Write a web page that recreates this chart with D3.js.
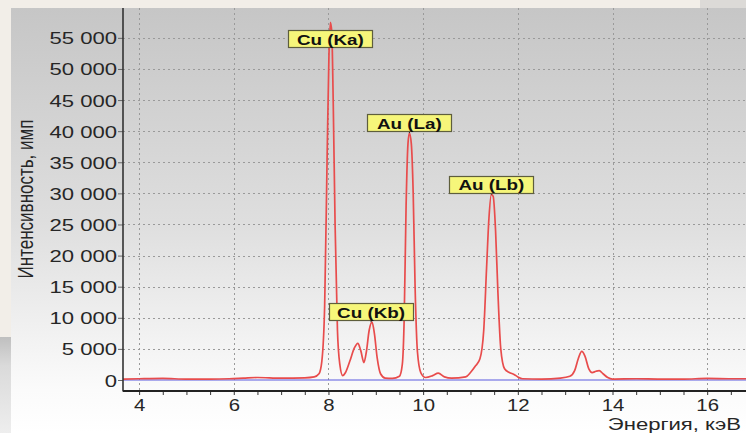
<!DOCTYPE html>
<html>
<head>
<meta charset="utf-8">
<script src="https://cdn.jsdelivr.net/npm/d3@7"></script>
<style>
  html, body { margin: 0; padding: 0; background: #f2eee8; }
  svg { display: block; }
  text { font-family: "Liberation Sans", Arial, sans-serif; }
</style>
</head>
<body>
<svg id="chart" width="746" height="433"></svg>
<script>
// ---------- data ----------
const energyKeV = [3.66, 4.0, 4.5, 5.0, 5.5, 5.9, 6.2, 6.5, 7.0, 7.5, 7.7, 7.8, 7.86, 7.92, 7.97, 8.01, 8.04, 8.07, 8.10, 8.14, 8.19, 8.24, 8.30, 8.36, 8.45, 8.55, 8.62, 8.68, 8.75, 8.80, 8.86, 8.92, 8.97, 9.03, 9.10, 9.20, 9.35, 9.50, 9.56, 9.60, 9.64, 9.68, 9.71, 9.75, 9.79, 9.83, 9.88, 9.95, 10.05, 10.2, 10.32, 10.45, 10.6, 10.9, 11.0, 11.1, 11.2, 11.28, 11.34, 11.39, 11.44, 11.48, 11.53, 11.58, 11.64, 11.72, 11.82, 11.92, 12.0, 12.1, 12.5, 12.9, 13.1, 13.2, 13.28, 13.35, 13.42, 13.5, 13.57, 13.65, 13.72, 13.8, 13.9, 14.0, 14.5, 15.0, 15.5, 16.0, 16.5, 16.82];
const counts    = [150, 200, 250, 150, 150, 200, 300, 400, 300, 350, 500, 1000, 3000, 12000, 35000, 52000, 57500, 56000, 45000, 25000, 8000, 2500, 700, 1200, 3000, 5200, 5900, 4800, 2800, 4500, 8000, 9300, 7500, 3500, 1000, 300, 250, 600, 2500, 10000, 28000, 38000, 39700, 38000, 30000, 15000, 4500, 1200, 400, 700, 1100, 500, 300, 500, 1200, 2200, 3400, 8000, 18000, 26000, 29800, 29500, 24000, 14000, 5000, 1800, 1200, 900, 500, 200, 150, 300, 600, 1500, 3500, 4600, 3800, 1800, 1200, 1400, 1500, 1000, 400, 150, 200, 150, 150, 250, 200, 200];

const peakLabels = ["Cu (Ka)", "Au (La)", "Au (Lb)", "Cu (Kb)"];
const peakEnergy = [8.04, 9.71, 11.44, 8.90];
const peakCounts = [57500, 39700, 29800, 9300];

const xTicks = [4, 6, 8, 10, 12, 14, 16];
const yTicks = [0, 5000, 10000, 15000, 20000, 25000, 30000, 35000, 40000, 45000, 50000, 55000];
const xTitle = "Энергия, кэВ";
const yTitle = "Интенсивность, имп";

// ---------- layout ----------
const W = 746, H = 433;
const plot = { left: 123, right: 746, top: 8, bottom: 391 };
const SX = 1.3; // horizontal glyph stretch seen in the reference

const svg = d3.select("#chart");
const defs = svg.append("defs");

const grad = defs.append("linearGradient").attr("id", "panelGrad")
  .attr("x1", 0).attr("y1", 0).attr("x2", 0).attr("y2", 1);
grad.append("stop").attr("offset", "0%").attr("stop-color", "#c6c6c6");
grad.append("stop").attr("offset", "50%").attr("stop-color", "#dedede");
grad.append("stop").attr("offset", "90%").attr("stop-color", "#fbfbfb");
grad.append("stop").attr("offset", "100%").attr("stop-color", "#ffffff");

const lgrad = defs.append("linearGradient").attr("id", "leftGrad")
  .attr("x1", 0).attr("y1", 0).attr("x2", 0).attr("y2", 1);
lgrad.append("stop").attr("offset", "0%").attr("stop-color", "#bfbfbf");
lgrad.append("stop").attr("offset", "30%").attr("stop-color", "#dadada");
lgrad.append("stop").attr("offset", "100%").attr("stop-color", "#eeeeee");

// background pieces
svg.append("rect").attr("x", 0).attr("y", 0).attr("width", W).attr("height", H).attr("fill", "#f2eee8");
svg.append("rect").attr("x", 700).attr("y", 0).attr("width", 46).attr("height", 8).attr("fill", "#dcdad7");
svg.append("rect").attr("x", 0).attr("y", 337).attr("width", 11).attr("height", H - 337).attr("fill", "url(#leftGrad)");
svg.append("rect").attr("x", 11).attr("y", 8).attr("width", W - 11).attr("height", H - 8).attr("fill", "url(#panelGrad)");

// scales
const x = d3.scaleLinear().domain([3.66, 16.82]).range([plot.left, plot.right]);
const y = d3.scaleLinear().domain([-1770, 59800]).range([plot.bottom, plot.top]);

// grid
const grid = svg.append("g").attr("stroke", "#9a9a9a").attr("stroke-width", 1).attr("stroke-dasharray", "2,3");
grid.selectAll("line.h").data(yTicks.filter(d => d > 0)).join("line")
  .attr("x1", plot.left).attr("x2", plot.right)
  .attr("y1", d => Math.round(y(d)) + 0.5).attr("y2", d => Math.round(y(d)) + 0.5);
grid.selectAll("line.v").data(xTicks).join("line")
  .attr("y1", plot.top).attr("y2", plot.bottom)
  .attr("x1", d => Math.round(x(d)) + 0.5).attr("x2", d => Math.round(x(d)) + 0.5);

// zero baseline (blue)
svg.append("line")
  .attr("x1", plot.left).attr("x2", plot.right)
  .attr("y1", y(0)).attr("y2", y(0))
  .attr("stroke", "#5b5be0").attr("stroke-width", 1.2);

// spectrum line
const pts = energyKeV.map((e, i) => [e, counts[i]]);
const line = d3.line().x(d => x(d[0])).y(d => y(d[1])).curve(d3.curveMonotoneX);
svg.append("path").datum(pts)
  .attr("d", line)
  .attr("fill", "none")
  .attr("stroke", "#e84c4c")
  .attr("stroke-width", 1.7)
  .attr("stroke-linejoin", "round");

// axes
const fmt = d => d3.format(",")(d).replace(/,/g, " ");
const yAxis = d3.axisLeft(y).tickValues(yTicks).tickSize(5).tickFormat(fmt);
const gy = svg.append("g").attr("transform", `translate(${plot.left},0)`).call(yAxis);
gy.select(".domain").remove();
gy.selectAll(".tick line").attr("stroke", "#666");
gy.selectAll(".tick text")
  .attr("x", null).attr("dy", null)
  .attr("transform", `translate(-6,0) scale(${SX},1)`)
  .attr("dominant-baseline", "central")
  .attr("font-size", 17).attr("fill", "#262626")
  .attr("font-family", "'Liberation Sans', Arial, sans-serif");

const minorX = d3.range(4, 16.9, 0.5);
const xAxis = d3.axisBottom(x).tickValues(minorX).tickSize(4)
  .tickFormat(d => xTicks.includes(d) ? d : "");
const gx = svg.append("g").attr("transform", `translate(0,${plot.bottom})`).call(xAxis);
gx.select(".domain").remove();
gx.selectAll(".tick line").attr("stroke", "#333");
gx.selectAll(".tick text")
  .attr("y", null).attr("dy", null)
  .attr("transform", `translate(0,20) scale(${SX * 0.92},1)`)
  .attr("font-size", 17).attr("fill", "#262626")
  .attr("font-family", "'Liberation Sans', Arial, sans-serif");

// axis lines
svg.append("line").attr("x1", plot.left).attr("x2", plot.left).attr("y1", plot.top).attr("y2", plot.bottom + 0.5)
  .attr("stroke", "#333").attr("stroke-width", 1.6);
svg.append("line").attr("x1", plot.left).attr("x2", plot.right).attr("y1", plot.bottom).attr("y2", plot.bottom)
  .attr("stroke", "#222").attr("stroke-width", 1.8);

// axis titles
svg.append("text").text(xTitle)
  .attr("transform", `translate(741,430) scale(${SX},1)`)
  .attr("text-anchor", "end").attr("font-size", 17).attr("fill", "#262626");
svg.append("text").text(yTitle)
  .attr("transform", `translate(33,199) rotate(-90) scale(1,${SX})`)
  .attr("text-anchor", "middle").attr("font-size", 17).attr("fill", "#262626");

// peak labels
const boxW = 84, boxH = 17, minTop = 30;
const lab = svg.append("g");
peakLabels.forEach((t, i) => {
  const px = x(peakEnergy[i]), py = y(peakCounts[i]);
  const top = Math.max(py - boxH - 2, minTop);
  if (top + boxH < py) {
    lab.append("line").attr("x1", px).attr("x2", px).attr("y1", top + boxH).attr("y2", py)
      .attr("stroke", "#222").attr("stroke-width", 1);
  }
  lab.append("rect")
    .attr("x", Math.round(px - boxW / 2) + 0.5).attr("y", Math.round(top) + 0.5)
    .attr("width", boxW).attr("height", boxH)
    .attr("fill", "#f6f67a").attr("stroke", "#5e5e3c").attr("stroke-width", 1.2);
  lab.append("text").text(t)
    .attr("transform", `translate(${px},${top + boxH / 2 + 1.5}) scale(${SX},1)`)
    .attr("text-anchor", "middle").attr("dominant-baseline", "central")
    .attr("font-size", 14.5).attr("font-weight", "bold").attr("fill", "#111");
});
</script>
</body>
</html>
